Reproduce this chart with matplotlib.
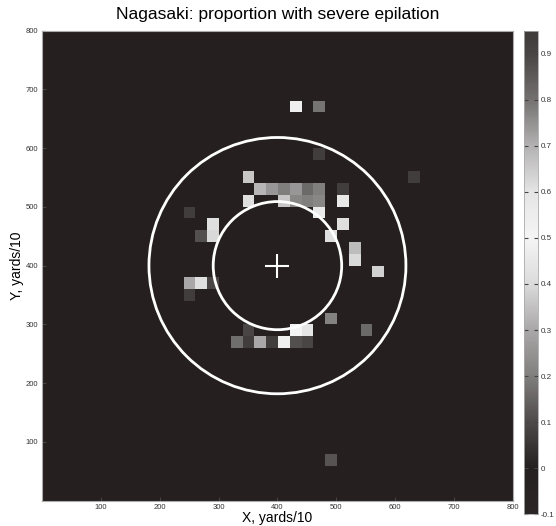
import numpy as np
import matplotlib.pyplot as plt
from matplotlib.colors import LinearSegmentedColormap
from matplotlib.patches import Circle

plt.rcParams['font.family'] = ['Liberation Sans', 'DejaVu Sans']

# grid of 20x20 cells (yards/10), 40 x 40 over 0..800
cell = 20
n_cells = 40

# non-zero cells: column index, row index, proportion
cols = [21, 23, 23, 31, 17,
        18, 19, 20, 21, 22, 23, 25,
        17, 20, 21, 22, 23, 25,
        23, 12,
        14, 25,
        13, 14, 24,
        26, 26, 28,
        12, 13, 14, 12,
        24,
        17, 21, 22, 27,
        16, 17, 18, 19, 20, 21, 22,
        24]
rows = [33, 33, 29, 27, 27,
        26, 26, 26, 26, 26, 26, 26,
        25, 25, 25, 25, 25, 25,
        24, 24,
        23, 23,
        22, 22, 22,
        21, 20, 19,
        18, 18, 18, 17,
        15,
        14, 14, 14, 14,
        13, 13, 13, 13, 13, 13, 13,
        3]
vals = [0.48, 0.18, 0.07, 0.07, 0.36,
        0.33, 0.26, 0.20, 0.26, 0.16, 0.20, 0.07,
        0.42, 0.36, 0.22, 0.20, 0.22, 0.45,
        0.46, 0.07,
        0.42, 0.42,
        0.11, 0.40, 0.42,
        0.34, 0.40, 0.38,
        0.30, 0.42, 0.09, 0.07,
        0.21,
        0.09, 0.50, 0.44, 0.16,
        0.17, 0.07, 0.30, 0.07, 0.48, 0.11, 0.09,
        0.12]

hypocenter = (400, 400)
radii = [109, 218]
cbar_ticks = [-0.1, 0, 0.1, 0.2, 0.3, 0.4, 0.5, 0.6, 0.7, 0.8, 0.9]
cbar_labels = ['-0.1', '0', '0.1', '0.2', '0.3', '0.4', '0.5',
               '0.6', '0.7', '0.8', '0.9']
vmin, vmax = -0.1, 0.95

grid = np.zeros((n_cells, n_cells))
for c, r, v in zip(cols, rows, vals):
    grid[r, c] = v

# jet printed in grayscale: dark at both ends, light in the middle
pts = [(-0.1, 0.16), (0.0, 0.135), (0.1, 0.30), (0.2, 0.50), (0.3, 0.66),
       (0.4, 0.86), (0.5, 0.96), (0.6, 0.90), (0.7, 0.70), (0.8, 0.45),
       (0.9, 0.28), (0.95, 0.24)]
colors = []
for p, g in pts:
    warm = 0.012 * (1 - g)
    colors.append(((p - vmin) / (vmax - vmin), (g + warm, g - warm, g - warm)))
cmap = LinearSegmentedColormap.from_list('jetgray', colors)

fig = plt.figure(figsize=(5.56, 5.26), dpi=100)
ax = fig.add_axes([0.075, 0.048, 0.848, 0.894])
im = ax.imshow(grid, cmap=cmap, vmin=vmin, vmax=vmax, origin='lower',
               extent=[0, n_cells * cell, 0, n_cells * cell],
               interpolation='nearest', aspect='auto')

for rad in radii:
    ax.add_patch(Circle(hypocenter, rad, fill=False, ec='white', lw=2.0))
ax.plot(*hypocenter, marker='+', ms=17, mew=1.5, color='white')

ax.set_xlim(0, 800)
ax.set_ylim(0, 800)
ax.set_xticks(range(100, 801, 100))
ax.set_yticks(range(100, 801, 100))
ax.tick_params(direction='in', length=3, labelsize=5.5, colors='#444444',
               labelcolor='#333333', pad=2.5)
for s in ax.spines.values():
    s.set_color('#aaaaaa')
    s.set_linewidth(0.8)

ax.set_title('Nagasaki: proportion with severe epilation', fontsize=12.5, pad=8)
ax.set_xlabel('X, yards/10', fontsize=10, labelpad=0)
ax.set_ylabel('Y, yards/10', fontsize=10)
ax.yaxis.set_label_coords(-0.037, 0.5)

cax = fig.add_axes([0.942, 0.022, 0.026, 0.92])
cb = fig.colorbar(im, cax=cax, ticks=cbar_ticks)
cb.ax.set_yticklabels(cbar_labels)
cb.ax.tick_params(direction='in', length=3, labelsize=5.8, colors='#444444',
                  labelcolor='#333333', left=True, pad=1.5)
cb.outline.set_edgecolor('#aaaaaa')
cb.outline.set_linewidth(0.6)

fig.savefig('out.png', dpi=100)
